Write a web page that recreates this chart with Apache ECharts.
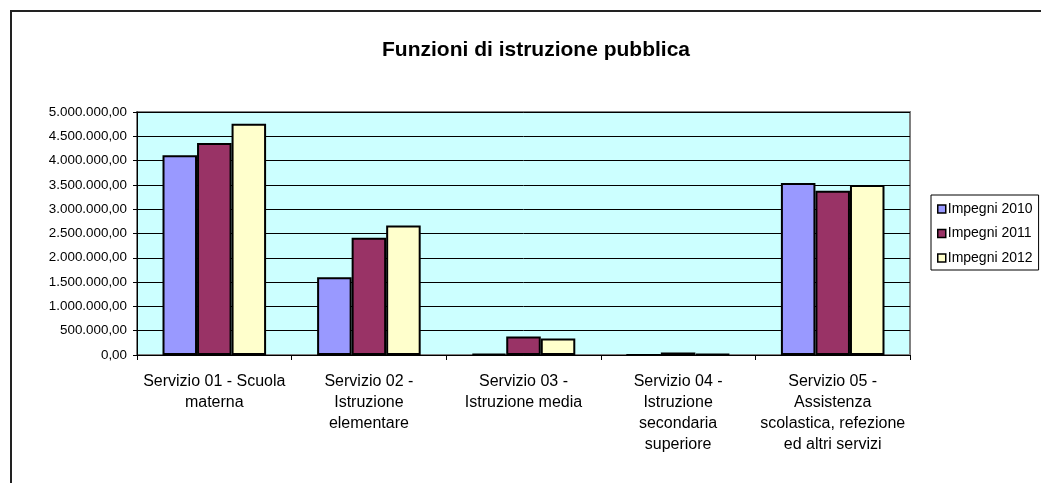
<!DOCTYPE html>
<html>
<head>
<meta charset="utf-8">
<title>Funzioni di istruzione pubblica</title>
<script src="https://cdn.jsdelivr.net/npm/echarts@6/dist/echarts.min.js"></script>
<style>
    html, body { margin: 0; padding: 0; background: #fff; }
    #chart { width: 1041px; height: 483px; }
</style>
</head>
<body>
<div id="chart"></div>
<script>
// #region data
const categories = [
    'Servizio 01 - Scuola\nmaterna',
    'Servizio 02 -\nIstruzione\nelementare',
    'Servizio 03 -\nIstruzione media',
    'Servizio 04 -\nIstruzione\nsecondaria\nsuperiore',
    'Servizio 05 -\nAssistenza\nscolastica, refezione\ned altri servizi'
]
const impegni2010 = [4110000, 1600000, 25000, 0, 3540000]
const impegni2011 = [4360000, 2410000, 380000, 50000, 3380000]
const impegni2012 = [4760000, 2665000, 340000, 20000, 3500000]
const seriesNames = ['Impegni 2010', 'Impegni 2011', 'Impegni 2012']
// #endregion

const font = 'Liberation Sans, Arial, sans-serif'

// 5.000.000,00 style labels
const formatIt = (v) => {
    const s = Math.round(v).toString().replace(/\B(?=(\d{3})+(?!\d))/g, '.')
    return s + ',00'
}

const barStyle = (color) => ({
    color: color,
    borderColor: '#000',
    borderWidth: 2
})

const myChart = echarts.init(document.getElementById('chart'))

const option = {
    backgroundColor: '#fff',
    animation: false,
    title: {
        text: 'Funzioni di istruzione pubblica',
        left: 382,
        top: 40,
        padding: 0,
        textStyle: {
            fontFamily: font,
            fontSize: 21,
            fontWeight: 'bold',
            color: '#000'
        }
    },
    // outer frame, only left and top edges are inside the picture
    graphic: [{
        type: 'rect',
        shape: { x: 11, y: 11, width: 1200, height: 700 },
        style: { fill: 'none', stroke: '#222', lineWidth: 2 },
        silent: true
    }],
    legend: {
        data: seriesNames,
        orient: 'vertical',
        left: 931,
        top: 195,
        padding: [6, 6, 4, 6],
        itemGap: 8.5,
        itemWidth: 8,
        itemHeight: 8,
        icon: 'rect',
        borderColor: '#000',
        borderWidth: 1,
        itemStyle: { borderColor: '#000', borderWidth: 1.5 },
        textStyle: {
            fontFamily: font,
            fontSize: 14,
            lineHeight: 16,
            color: '#000',
            padding: [0, 0, 0, -3]
        }
    },
    grid: {
        left: 137,
        top: 112,
        right: 131,
        bottom: 128,
        show: true,
        backgroundColor: '#CCFFFF',
        borderColor: '#808080',
        borderWidth: 2
    },
    xAxis: {
        type: 'category',
        data: categories,
        axisLine: { lineStyle: { color: '#000', width: 1 } },
        axisTick: { show: true, length: 5, lineStyle: { color: '#000' } },
        axisLabel: {
            interval: 0,
            margin: 16,
            fontFamily: font,
            fontSize: 16,
            lineHeight: 21,
            color: '#000',
            align: 'center'
        }
    },
    yAxis: {
        type: 'value',
        min: 0,
        max: 5000000,
        interval: 500000,
        axisLine: { show: true, lineStyle: { color: '#000', width: 1 } },
        axisTick: { show: true, length: 4, lineStyle: { color: '#000' } },
        splitLine: { show: true, lineStyle: { color: '#000', width: 1 } },
        axisLabel: {
            margin: 10,
            fontFamily: font,
            fontSize: 13.4,
            color: '#000',
            formatter: formatIt
        }
    },
    series: [
        {
            name: seriesNames[0],
            type: 'bar',
            data: impegni2010,
            barGap: '0%',
            barCategoryGap: '33%',
            itemStyle: barStyle('#9999FF')
        },
        {
            name: seriesNames[1],
            type: 'bar',
            data: impegni2011,
            itemStyle: barStyle('#993366')
        },
        {
            name: seriesNames[2],
            type: 'bar',
            data: impegni2012,
            itemStyle: barStyle('#FFFFCC')
        }
    ]
}

myChart.setOption(option)
</script>
</body>
</html>
